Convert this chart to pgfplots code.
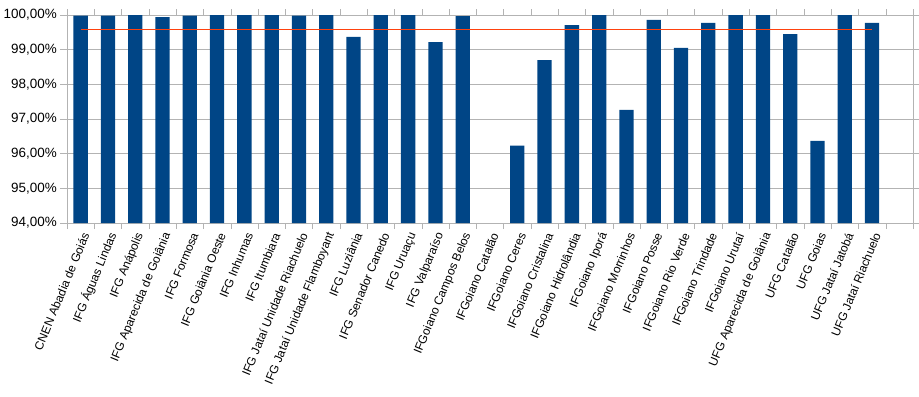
\documentclass[border=0pt]{standalone}
\usepackage{pgfplots}
\pgfplotsset{compat=1.18}
\usepackage{fontspec}
\setmainfont{Liberation Sans}
\definecolor{barblue}{HTML}{004586}
\definecolor{linered}{HTML}{FF420E}
\definecolor{gridgray}{HTML}{B3B3B3}
\begin{document}
\begin{tikzpicture}
\begin{axis}[
  name=ax,
  scale only axis,
  width=846bp, height=208bp,
  xmin=-0.5, xmax=30.5,
  ymin=94, ymax=100,
  axis line style={gridgray},
  every tick/.style={gridgray},
  tick align=outside,
  xtick={0,...,29},
  major x tick style={draw=none},
  minor xtick={-0.5,0.5,...,30.5},
  minor tick length=6bp,
  xticklabels={CNEN Abadia de Goiás, IFG Águas Lindas, IFG Anápolis, IFG Aparecida de Goiânia, IFG Formosa, IFG Goiânia Oeste, IFG Inhumas, IFG Itumbiara, IFG Jataí Unidade Riachuelo, IFG Jataí Unidade Flamboyant, IFG Luziânia, IFG Senador Canedo, IFG Uruaçu, IFG Valparaíso, IFGoiano Campos Belos, IFGoiano Catalão, IFGoiano Ceres, IFGoiano Cristalina, IFGoiano Hidrolândia, IFGoiano Iporá, IFGoiano Morrinhos, IFGoiano Posse, IFGoiano Rio Verde, IFGoiano Trindade, IFGoiano Urutaí, UFG Aparecida de Goiânia, UFG Catalão, UFG Goias, UFG Jataí Jatobá, UFG Jataí Riachuelo},
  x tick label style={rotate=67.5, anchor=east, font=\fontsize{12}{14}\selectfont, inner sep=1pt, yshift=-6bp},
  ytick={94,95,96,97,98,99,100},
  yticklabels={{94,00\%},{95,00\%},{96,00\%},{97,00\%},{98,00\%},{99,00\%},{100,00\%}},
  y tick label style={font=\fontsize{13.5}{16}\selectfont, inner sep=1pt, xshift=-2bp},
  major tick length=7bp,
  ymajorgrids,
  grid style={gridgray, line width=0.9bp},
]
\addplot[ybar, bar width=14.3bp, fill=barblue, draw=none] coordinates {
(0,99.98) (1,99.98) (2,100) (3,99.94) (4,99.98) (5,100) (6,100) (7,100) (8,99.98) (9,100)
(10,99.37) (11,100) (12,100) (13,99.22) (14,99.97)
(16,96.23) (17,98.70) (18,99.71) (19,100) (20,97.26) (21,99.86) (22,99.05) (23,99.77) (24,100)
(25,100) (26,99.45) (27,96.37) (28,100) (29,99.77)
};
\addplot[color=linered, line width=1.2bp, mark=none] coordinates {(0,99.59) (29,99.59)};
\end{axis}
\pgfresetboundingbox
\path ([xshift=-67bp,yshift=15bp]ax.north west) rectangle ([xshift=6bp,yshift=-174bp]ax.south east);
\end{tikzpicture}
\end{document}
